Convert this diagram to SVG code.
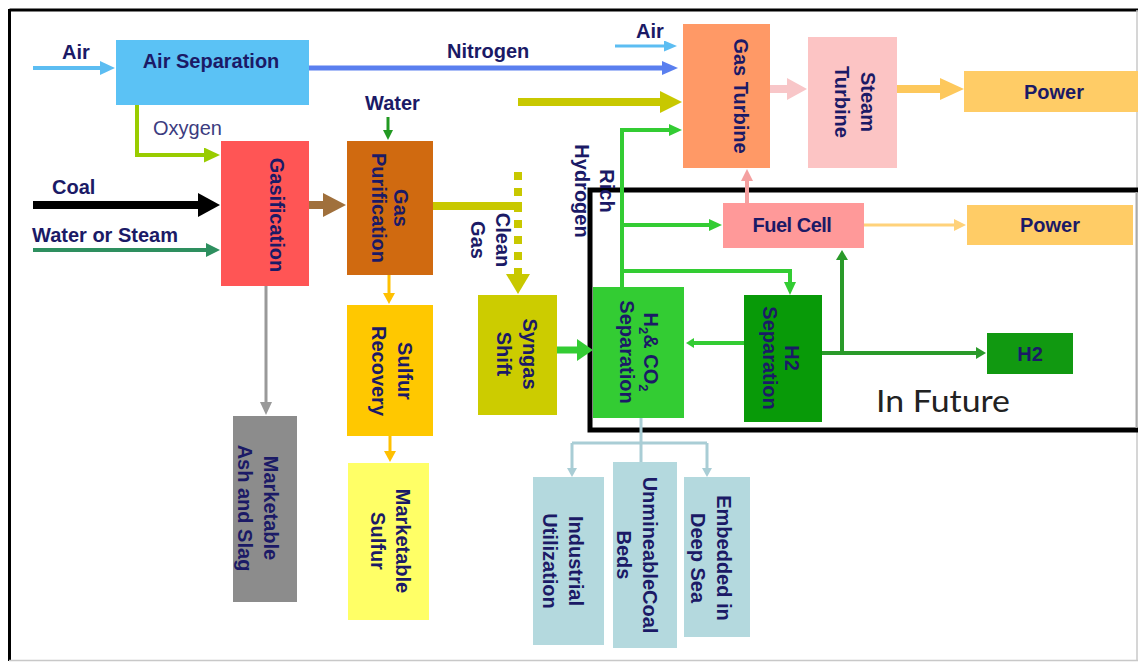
<svg xmlns="http://www.w3.org/2000/svg" width="1138" height="664" viewBox="0 0 1138 664">
  <style>
    .lbl { font-family: "Liberation Sans", Arial, sans-serif; font-weight: bold; font-size: 20px; fill: #1b1a66; }
    .vt { font-family: "Liberation Sans", Arial, sans-serif; font-weight: bold; font-size: 20px; fill: #1b1a66; text-anchor: middle; dominant-baseline: central; }
    .ht { font-family: "Liberation Sans", Arial, sans-serif; font-weight: bold; font-size: 20px; fill: #1b1a66; text-anchor: middle; dominant-baseline: central; }
    .ln { fill: none; stroke-linejoin: miter; }
  </style>
  <defs>
    <marker id="hAir" markerUnits="userSpaceOnUse" markerWidth="16" markerHeight="14" refX="1" refY="7" orient="auto"><path d="M0,0 L15,7 L0,14 z" fill="#5cbdf2"/></marker>
    <marker id="hN2" markerUnits="userSpaceOnUse" markerWidth="17" markerHeight="14" refX="1" refY="7" orient="auto"><path d="M0,0 L16,7 L0,14 z" fill="#5a7fef"/></marker>
    <marker id="hAir2" markerUnits="userSpaceOnUse" markerWidth="14" markerHeight="11" refX="1" refY="5.5" orient="auto"><path d="M0,0 L13,5.5 L0,11 z" fill="#5cbdf2"/></marker>
    <marker id="hO2" markerUnits="userSpaceOnUse" markerWidth="17" markerHeight="15" refX="1" refY="7.5" orient="auto"><path d="M0,0 L16,7.5 L0,15 z" fill="#99cc00"/></marker>
    <marker id="hCoal" markerUnits="userSpaceOnUse" markerWidth="23" markerHeight="24" refX="1" refY="12" orient="auto"><path d="M0,0 L22,12 L0,24 z" fill="#000"/></marker>
    <marker id="hWs" markerUnits="userSpaceOnUse" markerWidth="15" markerHeight="14" refX="1" refY="7" orient="auto"><path d="M0,0 L14,7 L0,14 z" fill="#2e8f5f"/></marker>
    <marker id="hBrown" markerUnits="userSpaceOnUse" markerWidth="24" markerHeight="24" refX="1" refY="12" orient="auto"><path d="M0,0 L23,12 L0,24 z" fill="#a0703c"/></marker>
    <marker id="hWater" markerUnits="userSpaceOnUse" markerWidth="11" markerHeight="10" refX="1" refY="5" orient="auto"><path d="M0,0 L10,5 L0,10 z" fill="#229922"/></marker>
    <marker id="hGold" markerUnits="userSpaceOnUse" markerWidth="12" markerHeight="12" refX="1" refY="6" orient="auto"><path d="M0,0 L11,6 L0,12 z" fill="#ffc000"/></marker>
    <marker id="hGray" markerUnits="userSpaceOnUse" markerWidth="14" markerHeight="12" refX="1" refY="6" orient="auto"><path d="M0,0 L13,6 L0,12 z" fill="#999"/></marker>
    <marker id="hOlive" markerUnits="userSpaceOnUse" markerWidth="23" markerHeight="22" refX="1" refY="11" orient="auto"><path d="M0,0 L22,11 L0,22 z" fill="#c8c800"/></marker>
    <marker id="hOliveD" markerUnits="userSpaceOnUse" markerWidth="21" markerHeight="24" refX="1" refY="12" orient="auto"><path d="M0,0 L20,12 L0,24 z" fill="#c8c800"/></marker>
    <marker id="hPinkBig" markerUnits="userSpaceOnUse" markerWidth="21" markerHeight="22" refX="1" refY="11" orient="auto"><path d="M0,0 L20,11 L0,22 z" fill="#f8c6c8"/></marker>
    <marker id="hPow" markerUnits="userSpaceOnUse" markerWidth="25" markerHeight="22" refX="1" refY="11" orient="auto"><path d="M0,0 L24,11 L0,22 z" fill="#fdc85c"/></marker>
    <marker id="hPink" markerUnits="userSpaceOnUse" markerWidth="13" markerHeight="12" refX="1" refY="6" orient="auto"><path d="M0,0 L12,6 L0,12 z" fill="#f4a0a0"/></marker>
    <marker id="hPowT" markerUnits="userSpaceOnUse" markerWidth="13" markerHeight="12" refX="1" refY="6" orient="auto"><path d="M0,0 L12,6 L0,12 z" fill="#ffd27a"/></marker>
    <marker id="hG" markerUnits="userSpaceOnUse" markerWidth="14" markerHeight="12" refX="1" refY="6" orient="auto"><path d="M0,0 L13,6 L0,12 z" fill="#33cc33"/></marker>
    <marker id="hGBig" markerUnits="userSpaceOnUse" markerWidth="17" markerHeight="22" refX="1" refY="11" orient="auto"><path d="M0,0 L16,11 L0,22 z" fill="#33cc33"/></marker>
    <marker id="hGs" markerUnits="userSpaceOnUse" markerWidth="9" markerHeight="10" refX="1" refY="5" orient="auto"><path d="M0,0 L8,5 L0,10 z" fill="#33cc33"/></marker>
    <marker id="hDG" markerUnits="userSpaceOnUse" markerWidth="11" markerHeight="12" refX="1" refY="6" orient="auto"><path d="M0,0 L10,6 L0,12 z" fill="#2a9a2a"/></marker>
    <marker id="hCO2" markerUnits="userSpaceOnUse" markerWidth="10" markerHeight="10" refX="1" refY="5" orient="auto"><path d="M0,0 L9,5 L0,10 z" fill="#a9cdd5"/></marker>
  </defs>

  <rect x="0" y="0" width="1138" height="664" fill="#fff"/>

  <!-- outer frame -->
  <g id="frame">
    <line x1="9.5" y1="10" x2="1138" y2="10" stroke="#000" stroke-width="3"/>
    <line x1="9.5" y1="9" x2="9.5" y2="661" stroke="#000" stroke-width="3"/>
    <line x1="9" y1="660.5" x2="1138" y2="660.5" stroke="#c8c8c8" stroke-width="1.5"/>
    <line x1="1137" y1="10" x2="1137" y2="661" stroke="#c8c8c8" stroke-width="1.5"/>
  </g>

  <!-- future section -->
  <g id="future">
    <rect x="590" y="190" width="560" height="240" fill="none" stroke="#000" stroke-width="5"/>
    <line x1="1136.5" y1="192" x2="1136.5" y2="428" stroke="#aaa" stroke-width="2"/>
    <text x="876" y="412" font-family="Lato, 'Open Sans', sans-serif" font-size="30" fill="#222" textLength="134" lengthAdjust="spacingAndGlyphs">In Future</text>
  </g>

  <!-- connectors -->
  <g id="connectors" class="ln">
    <path d="M33,68 H101" stroke="#5cbdf2" stroke-width="4" marker-end="url(#hAir)"/>
    <path d="M309,68 H663" stroke="#5a7fef" stroke-width="5" marker-end="url(#hN2)"/>
    <path d="M615,46 H665" stroke="#5cbdf2" stroke-width="3" marker-end="url(#hAir2)"/>
    <path d="M137,105 V155 H205" stroke="#99cc00" stroke-width="4" marker-end="url(#hO2)"/>
    <path d="M33,205 H199" stroke="#000" stroke-width="8" marker-end="url(#hCoal)"/>
    <path d="M33,250 H207" stroke="#2e8f5f" stroke-width="4" marker-end="url(#hWs)"/>
    <path d="M309,205 H324" stroke="#a0703c" stroke-width="8" marker-end="url(#hBrown)"/>
    <path d="M388,117 V131" stroke="#229922" stroke-width="3" marker-end="url(#hWater)"/>
    <path d="M389,275 V294" stroke="#ffc000" stroke-width="3" marker-end="url(#hGold)"/>
    <path d="M390,436 V452" stroke="#ffc000" stroke-width="3" marker-end="url(#hGold)"/>
    <path d="M266,286 V403" stroke="#999" stroke-width="3" marker-end="url(#hGray)"/>
    <path d="M433,206 H522" stroke="#c8c800" stroke-width="8"/>
    <path d="M518,172 V275" stroke="#c8c800" stroke-width="8" stroke-dasharray="8 8"/>
    <path d="M518,274 V275" stroke="#c8c800" stroke-width="1" marker-end="url(#hOliveD)"/>
    <path d="M518,102 H661" stroke="#c8c800" stroke-width="8" marker-end="url(#hOlive)"/>
    <path d="M770,89 H788" stroke="#f8c6c8" stroke-width="8" marker-end="url(#hPinkBig)"/>
    <path d="M897,89 H941" stroke="#fdc85c" stroke-width="8" marker-end="url(#hPow)"/>
    <path d="M747,203 V180" stroke="#f4a0a0" stroke-width="4" marker-end="url(#hPink)"/>
    <path d="M864,225 H955" stroke="#ffd27a" stroke-width="3" marker-end="url(#hPowT)"/>
    <path d="M622,287 V130 H670" stroke="#33cc33" stroke-width="4" marker-end="url(#hG)"/>
    <path d="M622,225 H710" stroke="#33cc33" stroke-width="4" marker-end="url(#hG)"/>
    <path d="M622,271 H790 V283" stroke="#33cc33" stroke-width="4" marker-end="url(#hG)"/>
    <path d="M557,350 H578" stroke="#33cc33" stroke-width="7" marker-end="url(#hGBig)"/>
    <path d="M744,343 H693" stroke="#33cc33" stroke-width="4" marker-end="url(#hGs)"/>
    <path d="M822,353 H977" stroke="#2a9a2a" stroke-width="4" marker-end="url(#hDG)"/>
    <path d="M842,353 V259" stroke="#2a9a2a" stroke-width="4" marker-end="url(#hDG)"/>
    <path d="M641,418 V462 M572,443 H707" stroke="#a9cdd5" stroke-width="3"/>
    <path d="M572,443 V469" stroke="#a9cdd5" stroke-width="3" marker-end="url(#hCO2)"/>
    <path d="M707,443 V469" stroke="#a9cdd5" stroke-width="3" marker-end="url(#hCO2)"/>
  </g>

  <!-- flow labels -->
  <g id="labels">
    <text class="lbl" x="62" y="59">Air</text>
    <text class="lbl" x="447" y="58">Nitrogen</text>
    <text class="lbl" x="636" y="38">Air</text>
    <text x="153" y="135" font-family="'Liberation Sans', Arial, sans-serif" font-size="20" fill="#3c3c80">Oxygen</text>
    <text class="lbl" x="52" y="194">Coal</text>
    <text class="lbl" x="32" y="242">Water or Steam</text>
    <text class="lbl" x="365" y="110">Water</text>
    <text class="vt" transform="translate(490,240) rotate(90)"><tspan x="0" y="-12.5">Clean</tspan><tspan x="0" y="12.5">Gas</tspan></text>
    <text class="vt" transform="translate(594,191) rotate(90)"><tspan x="0" y="-12.5">Rich</tspan><tspan x="0" y="12.5">Hydrogen</tspan></text>
  </g>

  <!-- nodes -->
  <g id="air-separation">
    <rect x="116" y="40" width="193" height="65" fill="#5bc2f5"/>
    <text class="ht" x="211" y="61">Air Separation</text>
  </g>
  <g id="gasification">
    <rect x="221" y="141" width="88" height="145" fill="#ff5555"/>
    <text class="vt" transform="translate(277,215) rotate(90)">Gasification</text>
  </g>
  <g id="gas-purification">
    <rect x="347" y="141" width="86" height="134" fill="#d06a10"/>
    <text class="vt" transform="translate(390,208) rotate(90)"><tspan x="0" y="-11">Gas</tspan><tspan x="0" y="11">Purification</tspan></text>
  </g>
  <g id="sulfur-recovery">
    <rect x="347" y="305" width="86" height="131" fill="#ffc800"/>
    <text class="vt" transform="translate(392,371) rotate(90)"><tspan x="0" y="-13">Sulfur</tspan><tspan x="0" y="13">Recovery</tspan></text>
  </g>
  <g id="marketable-sulfur">
    <rect x="348" y="463" width="81" height="157" fill="#ffff66"/>
    <text class="vt" transform="translate(390,541) rotate(90)"><tspan x="0" y="-12.5">Marketable</tspan><tspan x="0" y="12.5">Sulfur</tspan></text>
  </g>
  <g id="ash-slag">
    <rect x="233" y="416" width="64" height="186" fill="#8c8c8c"/>
    <text class="vt" transform="translate(258,508) rotate(90)"><tspan x="0" y="-13">Marketable</tspan><tspan x="0" y="13">Ash and Slag</tspan></text>
  </g>
  <g id="syngas-shift">
    <rect x="478" y="295" width="79" height="120" fill="#cccc00"/>
    <text class="vt" transform="translate(517,354) rotate(90)"><tspan x="0" y="-13">Syngas</tspan><tspan x="0" y="13">Shift</tspan></text>
  </g>
  <g id="gas-turbine">
    <rect x="683" y="24" width="87" height="144" fill="#ff9966"/>
    <text class="vt" transform="translate(741,96) rotate(90)">Gas Turbine</text>
  </g>
  <g id="steam-turbine">
    <rect x="808" y="37" width="89" height="131" fill="#fcc4c4"/>
    <text class="vt" transform="translate(855,102) rotate(90)"><tspan x="0" y="-13">Steam</tspan><tspan x="0" y="13">Turbine</tspan></text>
  </g>
  <g id="power-1">
    <rect x="964" y="71" width="174" height="41" fill="#ffcc66"/>
    <text class="ht" x="1054" y="92">Power</text>
  </g>
  <g id="fuel-cell">
    <rect x="723" y="203" width="141" height="45" fill="#ff9999"/>
    <text class="ht" x="792" y="225" letter-spacing="-0.5">Fuel Cell</text>
  </g>
  <g id="power-2">
    <rect x="967" y="205" width="166" height="40" fill="#ffcc66"/>
    <text class="ht" x="1050" y="225">Power</text>
  </g>
  <g id="h2-co2-separation">
    <rect x="593" y="287" width="91" height="131" fill="#33cc33"/>
    <text class="vt" transform="translate(639,352) rotate(90)"><tspan x="0" y="-12">H<tspan font-size="13" baseline-shift="sub">2</tspan>&amp; CO<tspan font-size="13" baseline-shift="sub">2</tspan></tspan><tspan x="0" y="12">Separation</tspan></text>
  </g>
  <g id="h2-separation">
    <rect x="744" y="295" width="78" height="127" fill="#089a08"/>
    <text class="vt" transform="translate(781,358) rotate(90)"><tspan x="0" y="-11">H2</tspan><tspan x="0" y="11">Separation</tspan></text>
  </g>
  <g id="h2">
    <rect x="987" y="333" width="86" height="41" fill="#119911"/>
    <text class="ht" x="1030" y="354" font-size="17">H2</text>
  </g>
  <g id="industrial-utilization">
    <rect x="533" y="477" width="71" height="168" fill="#b4d9de"/>
    <text class="vt" transform="translate(563,561) rotate(90)"><tspan x="0" y="-13">Industrial</tspan><tspan x="0" y="13">Utilization</tspan></text>
  </g>
  <g id="unmineable-coal-beds">
    <rect x="613" y="462" width="64" height="186" fill="#b4d9de"/>
    <text class="vt" transform="translate(637,555) rotate(90)"><tspan x="0" y="-13">UnmineableCoal</tspan><tspan x="0" y="13">Beds</tspan></text>
  </g>
  <g id="embedded-deep-sea">
    <rect x="684" y="477" width="66" height="160" fill="#b4d9de"/>
    <text class="vt" transform="translate(711,558) rotate(90)"><tspan x="0" y="-13">Embedded in</tspan><tspan x="0" y="13">Deep Sea</tspan></text>
  </g>
</svg>
